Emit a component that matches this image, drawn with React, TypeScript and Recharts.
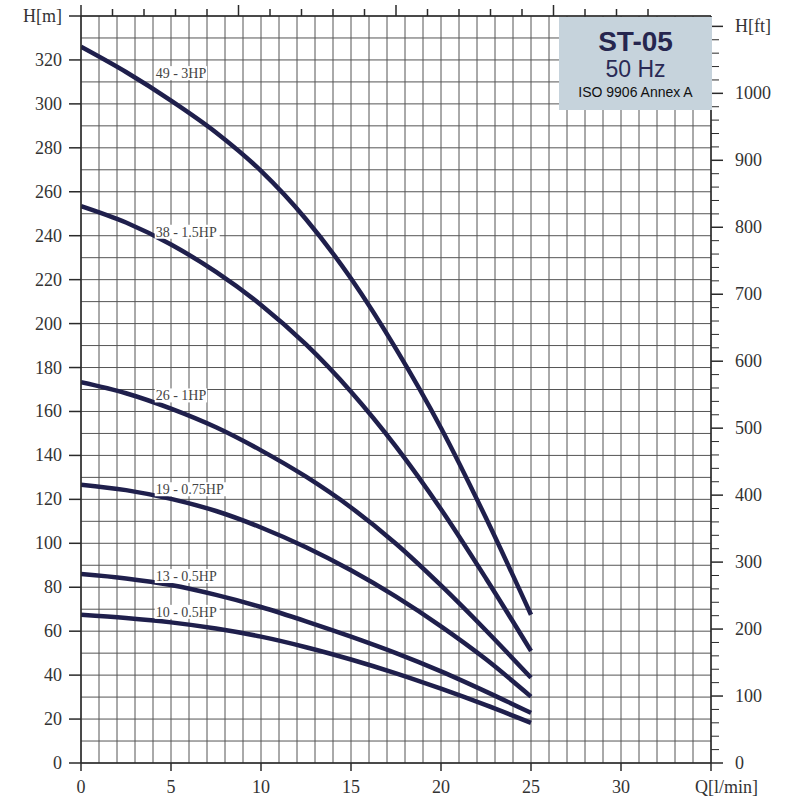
import React from "react";
import { LineChart, Line, XAxis, YAxis, CartesianGrid, ReferenceDot } from "recharts";

// flow Q [l/min] and head H [m]
const flow = [0, 2.5, 5, 7.5, 10, 12.5, 15, 17.5, 20, 22.5, 25];
const head49 = [326, 314.5, 301.5, 287, 269.5, 247.5, 220.5, 188.5, 152.5, 111.5, 67.5];
const head38 = [253.5, 246, 236, 223.5, 208.5, 190.5, 169, 144, 115.5, 84, 51];
const head26 = [173.3, 168.3, 161.3, 152.8, 142.3, 130.3, 116.3, 99.8, 80.8, 60.3, 38.8];
const head19 = [126.7, 124.2, 120.2, 114.7, 107.2, 98.2, 87.7, 75.7, 62.2, 47.2, 30.2];
const head13 = [86, 84, 81, 76.5, 71, 64.5, 57.5, 50, 41.7, 32.5, 22.8];
const head10 = [67.5, 66, 64, 61.2, 57.5, 52.7, 47.1, 40.8, 33.8, 26.3, 18.3];

const curveKeys = ["h49", "h38", "h26", "h19", "h13", "h10"];
const curveHeads = [head49, head38, head26, head19, head13, head10];
const curveNames = ["49 - 3HP", "38 - 1.5HP", "26 - 1HP", "19 - 0.75HP", "13 - 0.5HP", "10 - 0.5HP"];
const tagFlow = 4.15;
const tagHeads = [314, 241.8, 167.3, 124.6, 85.1, 68.8];

const qTicks = [0, 5, 10, 15, 20, 25, 30, 35];
const qTitle = "Q[l/min]";
const mTicks = [0, 20, 40, 60, 80, 100, 120, 140, 160, 180, 200, 220, 240, 260, 280, 300, 320, 340];
const mTitle = "H[m]";
const ftMajor = [0, 100, 200, 300, 400, 500, 600, 700, 800, 900, 1000, 1100];
const ftTitle = "H[ft]";

const Q_MAX = 35;
const H_MAX = 340;
const FT_PER_M = 3.28084;
const LPM_PER_GPM = 3.78541;

const range = (from: number, to: number, step: number) => {
  const out: number[] = [];
  for (let v = from; v <= to + 1e-9; v += step) out.push(Math.round(v * 100) / 100);
  return out;
};

const data = flow.map((q, i) => {
  const row: Record<string, number> = { q };
  curveKeys.forEach((k, j) => (row[k] = curveHeads[j][i]));
  return row;
});

const SERIF = "'Liberation Serif', 'DejaVu Serif', serif";
const SANS = "'Liberation Sans', Arial, sans-serif";
const AXIS = "#2a2a2a";
const CURVE = "#1f1f4c";

function BottomTick({ x, y, payload }: any) {
  const v = payload.value;
  if (!qTicks.includes(v)) return null;
  const last = v === qTicks[qTicks.length - 1];
  return (
    <g>
      <line x1={x} x2={x} y1={y} y2={y + 8} stroke={AXIS} strokeWidth={1.5} />
      <text
        x={last ? x - 16 : x}
        y={y + 30}
        textAnchor={last ? "start" : "middle"}
        fontFamily={SERIF}
        fontSize={18}
        fill="#333"
      >
        {last ? qTitle : v}
      </text>
    </g>
  );
}

function LeftTick({ x, y, payload }: any) {
  const v = payload.value;
  if (!mTicks.includes(v)) return null;
  const last = v === mTicks[mTicks.length - 1];
  return (
    <g>
      <line x1={x - 12} x2={x} y1={y} y2={y} stroke={AXIS} strokeWidth={1.5} />
      <text x={x - 19} y={y + 6} textAnchor="end" fontFamily={SERIF} fontSize={18} fill="#333">
        {last ? mTitle : v}
      </text>
    </g>
  );
}

function RightTick({ x, y, payload }: any) {
  const v = payload.value;
  const major = ftMajor.includes(v);
  const last = v === ftMajor[ftMajor.length - 1];
  return (
    <g>
      <line x1={x} x2={x + (major ? 12 : 8)} y1={y} y2={y} stroke={AXIS} strokeWidth={major ? 1.5 : 1} />
      {major && (
        <text x={x + 24} y={y + 6} textAnchor="start" fontFamily={SERIF} fontSize={18} fill="#333">
          {last ? ftTitle : v}
        </text>
      )}
    </g>
  );
}

function TopTick({ x, y, payload }: any) {
  const v = payload.value;
  const major = Math.abs(v / 2.5 - Math.round(v / 2.5)) < 1e-6;
  return <line x1={x} x2={x} y1={y} y2={y - (major ? 11 : 7)} stroke={AXIS} strokeWidth={1.5} />;
}

function CurveTag({ cx, cy, text }: any) {
  const w = text.length * 6.3;
  return (
    <g>
      <rect x={cx - 1} y={cy - 7} width={w + 2} height={14} fill="#fff" />
      <text x={cx} y={cy + 5} fontFamily={SERIF} fontSize={14} fill="#444">
        {text}
      </text>
    </g>
  );
}

export default function App() {
  return (
    <div style={{ position: "absolute", left: 0, top: 0, width: 800, height: 800, background: "#fff" }}>
      <LineChart width={800} height={800} data={data} margin={{ top: 0, right: 0, bottom: 0, left: 0 }}>
        <CartesianGrid xAxisId="q" yAxisId="m" stroke="#555" strokeWidth={1} />
        <XAxis
          xAxisId="q"
          dataKey="q"
          type="number"
          orientation="bottom"
          domain={[0, Q_MAX]}
          ticks={range(0, Q_MAX, 1)}
          interval={0}
          height={37}
          tickSize={0}
          tickMargin={0}
          tickLine={false}
          tick={<BottomTick />}
          axisLine={{ stroke: AXIS, strokeWidth: 1.5 }}
          allowDataOverflow
        />
        <XAxis
          xAxisId="gpm"
          type="number"
          orientation="top"
          domain={[0, Q_MAX / LPM_PER_GPM]}
          ticks={range(0, 9, 0.5)}
          interval={0}
          height={16}
          tickSize={0}
          tickMargin={0}
          tickLine={false}
          tick={<TopTick />}
          axisLine={{ stroke: AXIS, strokeWidth: 1.5 }}
          allowDataOverflow
        />
        <YAxis
          yAxisId="m"
          type="number"
          orientation="left"
          domain={[0, H_MAX]}
          ticks={range(0, H_MAX, 10)}
          interval={0}
          width={81}
          tickSize={0}
          tickMargin={0}
          tickLine={false}
          tick={<LeftTick />}
          axisLine={{ stroke: AXIS, strokeWidth: 1.5 }}
          allowDataOverflow
        />
        <YAxis
          yAxisId="ft"
          type="number"
          orientation="right"
          domain={[0, H_MAX * FT_PER_M]}
          ticks={range(0, 1100, 20)}
          interval={0}
          width={89}
          tickSize={0}
          tickMargin={0}
          tickLine={false}
          tick={<RightTick />}
          axisLine={{ stroke: AXIS, strokeWidth: 1.5 }}
          allowDataOverflow
        />
        {curveKeys.map((k) => (
          <Line
            key={k}
            xAxisId="q"
            yAxisId="m"
            type="monotone"
            dataKey={k}
            stroke={CURVE}
            strokeWidth={4.5}
            dot={false}
            activeDot={false}
            isAnimationActive={false}
          />
        ))}
        {curveNames.map((name, i) => (
          <ReferenceDot
            key={name}
            xAxisId="q"
            yAxisId="m"
            x={tagFlow}
            y={tagHeads[i]}
            r={0}
            shape={(p: any) => <CurveTag cx={p.cx} cy={p.cy} text={name} />}
          />
        ))}
      </LineChart>
      <div
        style={{
          position: "absolute",
          left: 559,
          top: 17,
          width: 153,
          height: 93,
          background: "#c6d3dc",
          fontFamily: SANS,
          textAlign: "center",
        }}
      >
        <div style={{ position: "absolute", left: 0, right: 0, top: 11, fontSize: 28, lineHeight: "28px", fontWeight: 700, color: "#26264f" }}>
          ST-05
        </div>
        <div style={{ position: "absolute", left: 0, right: 0, top: 41, fontSize: 23, lineHeight: "23px", color: "#2a2a55" }}>
          50 Hz
        </div>
        <div style={{ position: "absolute", left: 0, right: 0, top: 68, fontSize: 14, lineHeight: "14px", color: "#111" }}>
          ISO 9906 Annex A
        </div>
      </div>
    </div>
  );
}
